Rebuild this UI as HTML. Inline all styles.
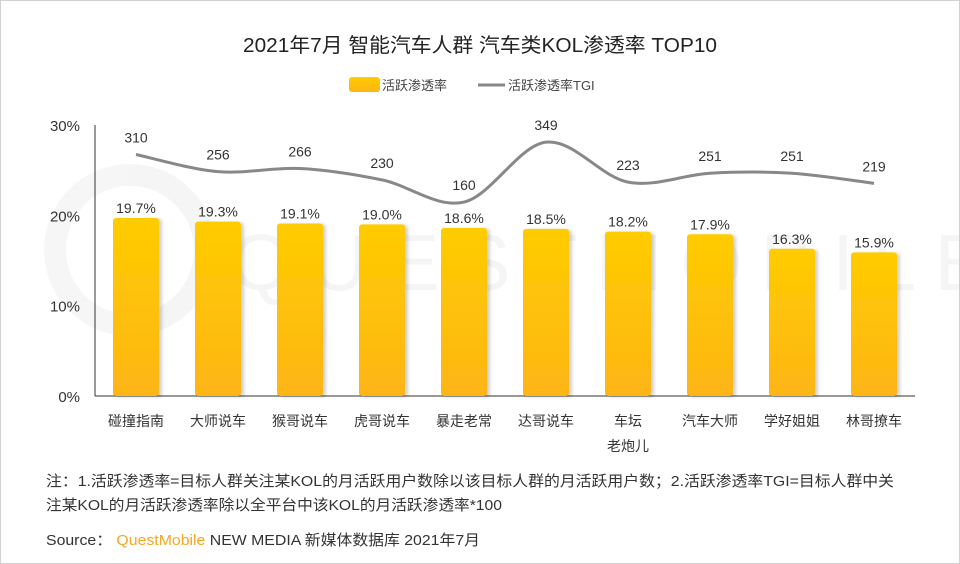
<!DOCTYPE html>
<html><head><meta charset="utf-8">
<style>
body{margin:0;background:#fff;}
#wrap{position:relative;width:958px;height:562px;border:1px solid #d0d0d0;background:#fff;overflow:hidden;}
text{font-family:"Liberation Sans","Noto Sans CJK SC",sans-serif;}
</style></head>
<body>
<div id="wrap">
<svg id="chart" width="960" height="564" viewBox="0 0 960 564" style="position:absolute;left:-1px;top:-1px">
<defs>
<linearGradient id="bg" x1="0" y1="0" x2="0" y2="1">
<stop offset="0" stop-color="#FFCC00"/><stop offset="1" stop-color="#FDB515"/>
</linearGradient>
<filter id="sh" x="-20%" y="-5%" width="140%" height="110%"><feDropShadow dx="3" dy="1" stdDeviation="1.5" flood-color="#000" flood-opacity="0.18"/></filter>
</defs>
<g opacity="0.035">
<circle cx="130" cy="250" r="75" fill="none" stroke="#000" stroke-width="22"/>
<text x="230" y="290" font-size="80" fill="#000" letter-spacing="18">QUESTMOBILE</text>
</g>
<text x="480" y="52" text-anchor="middle" font-size="20" fill="#222" textLength="474" lengthAdjust="spacingAndGlyphs">2021年7月 智能汽车人群 汽车类KOL渗透率 TOP10</text>
<g>
<rect x="349" y="77" width="31" height="15" rx="3" fill="url(#bg)"/>
<text x="382" y="90" font-size="13" fill="#444">活跃渗透率</text>
<line x1="478" y1="85" x2="505" y2="85" stroke="#888" stroke-width="3"/>
<text x="508" y="90" font-size="13" fill="#444">活跃渗透率TGI</text>
</g>
<g id="axes"></g>
<g id="bars"></g>
<g id="line"></g>
<text x="46" y="486" font-size="15" fill="#333" textLength="848" lengthAdjust="spacingAndGlyphs">注：1.活跃渗透率=目标人群关注某KOL的月活跃用户数除以该目标人群的月活跃用户数；2.活跃渗透率TGI=目标人群中关</text>
<text x="46" y="510" font-size="15" fill="#333" textLength="456" lengthAdjust="spacingAndGlyphs">注某KOL的月活跃渗透率除以全平台中该KOL的月活跃渗透率*100</text>
<text x="46" y="545" font-size="15" fill="#333" textLength="434" lengthAdjust="spacingAndGlyphs">Source： <tspan fill="#F5A623">QuestMobile</tspan> NEW MEDIA 新媒体数据库 2021年7月</text>
</svg>
</div>
<script>
const categories=["碰撞指南","大师说车","猴哥说车","虎哥说车","暴走老常","达哥说车","车坛\n老炮儿","汽车大师","学好姐姐","林哥撩车"];
const rates=[19.7,19.3,19.1,19.0,18.6,18.5,18.2,17.9,16.3,15.9];
const tgi=[310,256,266,230,160,349,223,251,251,219];
const yTicks=[0,10,20,30];
const NS="http://www.w3.org/2000/svg";
const X0=95,X1=915,Y0=396,Y1=125;
const n=categories.length,step=(X1-X0)/n;
const xc=i=>X0+step*(i+0.5);
const y=v=>Y0-(v/30)*(Y0-Y1);
const y2=v=>252.8-v*0.317;
function mk(t,a,p){const e=document.createElementNS(NS,t);for(const k in a)e.setAttribute(k,a[k]);p.appendChild(e);return e;}
const axes=document.getElementById('axes'),bars=document.getElementById('bars'),line=document.getElementById('line');
yTicks.forEach(t=>{const e=mk('text',{x:80,y:y(t)+6,'text-anchor':'end','font-size':15,fill:'#333'},axes);e.textContent=t+'%';

});
const ya=mk('line',{x1:X0,y1:Y1,x2:X0,y2:Y0,stroke:'#333','stroke-width':1},axes);


const xa=mk('line',{x1:X0,y1:Y0,x2:X1,y2:Y0,stroke:'#333','stroke-width':1},axes);


categories.forEach((c,i)=>{c.split('\n').forEach((s,j)=>{const e=mk('text',{x:xc(i),y:426+j*25,'text-anchor':'middle','font-size':14,fill:'#333'},axes);e.textContent=s;

});});
rates.forEach((v,i)=>{const w=46;const r=mk('rect',{x:xc(i)-w/2,y:y(v),width:w,height:Y0-y(v),rx:3,fill:'url(#bg)',filter:'url(#sh)'},bars);


const t=mk('text',{x:xc(i),y:y(v)-5,'text-anchor':'middle','font-size':14,fill:'#333'},bars);t.textContent=v.toFixed(1)+'%';

});
const pts=tgi.map((v,i)=>[xc(i),y2(v)]);
let d='M'+pts[0][0]+','+pts[0][1];
for(let i=0;i<pts.length-1;i++){const p0=pts[Math.max(0,i-1)],p1=pts[i],p2=pts[i+1],p3=pts[Math.min(pts.length-1,i+2)];
d+=' C'+(p1[0]+(p2[0]-p0[0])/6)+','+(p1[1]+(p2[1]-p0[1])/6)+' '+(p2[0]-(p3[0]-p1[0])/6)+','+(p2[1]-(p3[1]-p1[1])/6)+' '+p2[0]+','+p2[1];}
const pl=mk('path',{d:d,fill:'none',stroke:'#888','stroke-width':3},line);


tgi.forEach((v,i)=>{const t=mk('text',{x:xc(i),y:y2(v)-12,'text-anchor':'middle','font-size':14,fill:'#333'},line);t.textContent=v;

});
</script>
</body></html>
